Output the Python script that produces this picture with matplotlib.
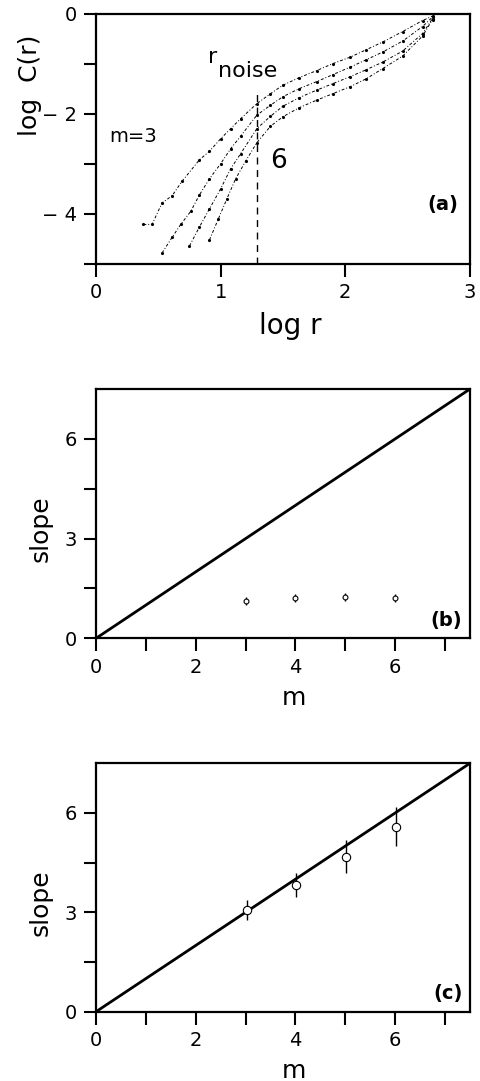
import matplotlib
matplotlib.use("Agg")
import matplotlib.pyplot as plt

# ---- panel (a): correlation integrals, log C(r) vs log r, embedding m = 3..6
m3_logr = [0.38, 0.45, 0.53, 0.61, 0.69, 0.83, 0.91, 1.00, 1.08, 1.16, 1.29, 1.40,
           1.50, 1.63, 1.77, 1.90, 2.04, 2.17, 2.30, 2.46, 2.62, 2.70]
m3_logc = [-4.21, -4.21, -3.78, -3.64, -3.35, -2.92, -2.75, -2.50, -2.30, -2.10, -1.80, -1.60,
           -1.43, -1.28, -1.14, -1.00, -0.87, -0.72, -0.57, -0.36, -0.14, -0.05]

m4_logr = [0.53, 0.61, 0.68, 0.76, 0.83, 0.91, 1.00, 1.08, 1.16, 1.29, 1.40,
           1.50, 1.63, 1.77, 1.90, 2.04, 2.17, 2.30, 2.46, 2.62, 2.70]
m4_logc = [-4.78, -4.47, -4.21, -3.95, -3.62, -3.30, -3.00, -2.70, -2.45, -2.03, -1.83,
           -1.66, -1.50, -1.36, -1.22, -1.07, -0.92, -0.77, -0.55, -0.26, -0.07]

m5_logr = [0.75, 0.83, 0.91, 1.00, 1.08, 1.16, 1.29, 1.40, 1.50, 1.63, 1.77,
           1.90, 2.04, 2.17, 2.30, 2.46, 2.62, 2.70]
m5_logc = [-4.64, -4.26, -3.90, -3.50, -3.10, -2.80, -2.30, -2.05, -1.85, -1.68, -1.53,
           -1.40, -1.26, -1.12, -0.97, -0.75, -0.40, -0.10]

m6_logr = [0.91, 0.98, 1.05, 1.12, 1.20, 1.29, 1.40, 1.50, 1.63, 1.77,
           1.90, 2.04, 2.17, 2.30, 2.46, 2.62, 2.70]
m6_logc = [-4.52, -4.11, -3.70, -3.30, -2.95, -2.58, -2.25, -2.06, -1.88, -1.73,
           -1.60, -1.46, -1.30, -1.10, -0.85, -0.45, -0.12]

r_noise = 1.29
r_noise_top = -1.55

# ---- panels (b) and (c): fitted slope vs embedding dimension
m_vals = [3, 4, 5, 6]
slope_b = [1.13, 1.22, 1.24, 1.20]
slope_b_err = [0.12, 0.12, 0.12, 0.12]
m_vals_c = [3.02, 4.02, 5.02, 6.02]
slope_c = [3.07, 3.83, 4.68, 5.58]
slope_c_err = [0.29, 0.37, 0.49, 0.59]
diag = [0, 7.5]

plt.rcParams["font.family"] = ["DejaVu Sans"]
plt.rcParams["axes.linewidth"] = 1.6

fig = plt.figure(figsize=(4.8, 10.81), dpi=100)


def style_ticks(ax):
    ax.tick_params(direction="out", length=9, width=1.5, labelsize=14, pad=5)


# panel (a)
ax = fig.add_axes([0.2, 0.7558, 0.779, 0.2317])
for xs, ys in [(m3_logr, m3_logc), (m4_logr, m4_logc), (m5_logr, m5_logc), (m6_logr, m6_logc)]:
    ax.plot(xs, ys, color="black", lw=0.7, ls=(0, (3, 2, 1, 2)),
            marker=".", ms=2.5, mfc="black", mec="black")
ax.plot([r_noise, r_noise], [-5, r_noise_top], color="black", lw=1.0, ls=(0, (5, 4)))
ax.set_xlim(0, 3)
ax.set_ylim(-5, 0)
ax.set_xticks([0, 1, 2, 3])
ax.set_yticks([-5, -4, -3, -2, -1, 0])
ax.set_yticklabels(["", "\u2212 4", "", "\u2212 2", "", "0"])
style_ticks(ax)
ax.set_xlabel("log r", fontsize=20, va="top")
ax.xaxis.set_label_coords(0.52, -0.19)
ax.set_ylabel("log  C(r)", fontsize=18)
ax.yaxis.set_label_coords(-0.145, 0.715)
ax.text(0.90, -0.99, "r", fontsize=16, va="baseline")
ax.text(0.98, -1.27, "noise", fontsize=16, va="baseline")
ax.text(0.11, -2.56, "m=3", fontsize=14, va="baseline")
ax.text(1.395, -3.08, "6", fontsize=19, va="baseline")
ax.text(0.97, 0.2, "(a)", transform=ax.transAxes, ha="right", va="bottom",
        fontsize=14, fontweight="bold")

# panels (b) and (c)
for rect, xs, ys, errs, ms, tag in [
    ([0.2, 0.4095, 0.779, 0.2306], m_vals, slope_b, slope_b_err, 3.5, "(b)"),
    ([0.2, 0.0641, 0.779, 0.2298], m_vals_c, slope_c, slope_c_err, 6, "(c)"),
]:
    ax = fig.add_axes(rect)
    ax.plot(diag, diag, color="black", lw=2.0)
    ax.errorbar(xs, ys, yerr=errs, fmt="o", ms=ms, mfc="white", mec="black",
                mew=0.8, ecolor="black", elinewidth=1.0, capsize=0)
    ax.set_xlim(0, 7.5)
    ax.set_ylim(0, 7.5)
    ax.set_xticks([0, 1, 2, 3, 4, 5, 6, 7])
    ax.set_xticklabels(["0", "", "2", "", "4", "", "6", ""])
    ax.set_yticks([0, 1.5, 3, 4.5, 6])
    ax.set_yticklabels(["0", "", "3", "", "6"])
    style_ticks(ax)
    ax.set_xlabel("m", fontsize=18, va="top")
    ax.xaxis.set_label_coords(0.53, -0.19)
    ax.set_ylabel("slope", fontsize=18)
    ax.yaxis.set_label_coords(-0.115, 0.44)
    ax.text(0.98, 0.035, tag, transform=ax.transAxes, ha="right", va="bottom",
            fontsize=14, fontweight="bold")

fig.savefig("out.png", dpi=100)
